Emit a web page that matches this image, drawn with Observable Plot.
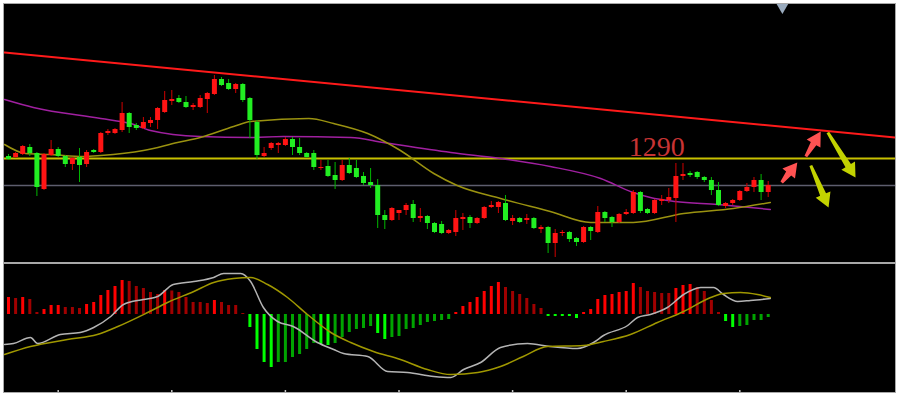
<!DOCTYPE html>
<html>
<head>
<meta charset="utf-8">
<script src="https://cdn.jsdelivr.net/npm/d3@7"></script>
<script src="https://cdn.jsdelivr.net/npm/@observablehq/plot@0.6"></script>
<style>
  html, body { margin: 0; padding: 0; background: #fff; width: 900px; height: 400px; overflow: hidden; }
  .panel { position: absolute; background: #000; border: 1px solid #a8a8a8; }
  #top { left: 3px; top: 3px; width: 891px; height: 258px; }
  #bottom { left: 3px; top: 263px; width: 891px; height: 128px; }
  .panel svg { display: block; }
</style>
</head>
<body>
<div id="top" class="panel"></div>
<div id="bottom" class="panel"></div>
<script>
// ---------- price candles ----------
const open = [1291,1290.5,1292,1295.5,1292.5,1274.5,1291.5,1294.5,1291,1287,
1290.5,1287,1294,1293,1302.5,1302.5,1304,1312.5,1306.5,1305,
1307.5,1309,1313,1318.5,1320,1318,1315.5,1315.5,1319.5,1322,
1329.5,1327.5,1324.5,1327,1320,1308,1291,1295,1296.5,1296.5,
1299.5,1295.5,1292.5,1292.5,1285,1286,1281.5,1279,1286.5,1285,
1281,1278,1276.5,1261.5,1259,1262.5,1264,1267,1260,1261,
1257.5,1257,1252.5,1253,1259.5,1260.5,1257.5,1260,1265.5,1265.5,
1267.5,1258.5,1260,1259,1260,1254.5,1255.5,1247.5,1252.5,1253,
1250,1248,1255.5,1253,1263,1260.5,1258,1262,1262.5,1273,
1264.5,1262.5,1268.5,1269,1270,1281,1282.5,1283,1280.5,1279,
1274,1266,1267.5,1269,1273.5,1275.5,1279,1273];
const close = [1289.5,1292.5,1296,1292.5,1275.5,1292,1294.5,1291,1287,1290,
1286.5,1293,1293,1302.5,1303.5,1304.5,1312.5,1305.5,1305,1308,
1309,1315,1319,1319.5,1318,1315.5,1316.5,1320,1322.5,1329.5,
1326.5,1324.5,1327,1319,1309,1291.5,1292.5,1297.5,1297.5,1299.5,
1295.5,1292.5,1290.5,1285.5,1285.5,1281,1279,1286.5,1282.5,1280.5,
1277.5,1276.5,1261.5,1259,1265,1264,1266.5,1260,1261,1257.5,
1253,1252.5,1254,1260,1260.5,1257.5,1260,1265.5,1266.5,1268,
1259,1260,1258,1260,1255,1255.5,1247.5,1252.5,1253,1249.5,
1248,1255.5,1253.5,1263,1260,1258,1262,1263,1273,1263.5,
1262.5,1269,1269.5,1270.5,1281,1282,1281.5,1280.5,1279,1274,
1266.5,1267.5,1269,1273.5,1275.5,1279,1273,1276.5];
const high = [1292,1293,1296.5,1297,1293,1292.5,1299,1295.5,1291.5,1290.5,
1295,1294,1294.5,1303,1304.5,1305,1318,1313,1307.5,1310.5,
1310.5,1315.5,1323.5,1324,1321.5,1321,1317.5,1321.5,1323,1331.5,
1330.5,1329.5,1327.5,1327.5,1320.5,1309,1295.5,1298,1298,1300.5,
1300.5,1300,1293,1294,1289,1289,1288,1289,1290,1289,
1283,1285,1279.5,1264,1265.5,1264,1267.5,1269,1265,1261.5,
1258,1258.5,1254.5,1264,1262.5,1261.5,1260.5,1266,1268.5,1268.5,
1271.5,1261.5,1260.5,1262,1260.5,1256.5,1256,1254.5,1254,1253.5,
1250.5,1256,1256,1266,1263.5,1261,1262.5,1264.5,1274,1273.5,
1265,1269.5,1271.5,1275,1287.5,1287.5,1283.5,1283.5,1281,1280.5,
1278,1268,1269.5,1274,1277.5,1280.5,1282,1278.5];
const low = [1289,1290,1291.5,1291,1271,1274,1291,1290.5,1285.5,1284,
1278,1285.5,1292.5,1292.5,1301.5,1302,1303,1302.5,1304,1304.5,
1305.5,1304.5,1312.5,1316.5,1317.5,1315,1314,1315,1312.5,1321.5,
1326,1324,1322.5,1318,1300,1289.5,1290.5,1294,1292.5,1296,
1291.5,1291.5,1290,1284,1284,1280.5,1274.5,1278.5,1282,1280,
1276.5,1275,1255,1254.5,1258.5,1259,1261.5,1258,1258,1254.5,
1252.5,1252,1252,1251,1254,1255,1257,1259.5,1265,1262.5,
1258.5,1256.5,1257.5,1257,1254.5,1252.5,1242.5,1240.5,1251,1248,
1246,1247.5,1249,1252.5,1258,1255.5,1257.5,1261.5,1262,1262.5,
1262,1262,1266.5,1267.5,1258,1279,1280.5,1279.5,1278,1271.5,
1266,1265,1266.5,1268.5,1273,1273,1269,1270.5];

// moving averages (bar index, price)
const maSlowX = [-0.56,3.5,13.0,17.2,20.0,27.0,34.1,38.7,48.2,52.8,62.3,69.3,76.3,83.4,88.0,90.4,93.9,99.9,104.5,107.3];
const maSlowY = [1319.5,1315.5,1310,1307.5,1304,1301,1300.5,1301,1300.5,1298,1293,1290,1286,1280,1273,1270.5,1268.5,1267,1265.5,1264.5];
const maFastX = [-0.56,2.4,5.9,10.6,13.0,19.0,23.8,27.0,31.7,34.1,42.3,45.8,50.6,55.2,59.9,63.2,69.3,76.3,82.0,88.0,95.1,102.1,107.3];
const maFastY = [1297,1292.5,1292,1291,1291.5,1294,1298,1300.5,1306,1308.5,1310,1307.5,1302.5,1294,1282.5,1276.5,1270,1263.5,1258,1258,1262.5,1265,1268];

// reference levels and annotations
const levelResist = 1290;
const levelLast = 1276.5;
const trendX = [-0.56, 124.93];
const trendY = [1343, 1300.5];
const labelText = ["1290"];
const labelX = [91.3];
const labelY = [1291.5];
const arrowX1 = [108.9, 112.3, 115.4, 113.0];
const arrowY1 = [1278, 1291, 1303, 1286.5];
const arrowX2 = [111.1, 114.4, 119.3, 115.5];
const arrowY2 = [1288, 1303.5, 1280.5, 1265.5];
const arrowDir = ["up", "up", "down", "down"];
const markerX = [109];
const markerY = [1367.3];

// ---------- MACD ----------
const hist = [1.7,1.6,1.7,1.5,0.2,0.5,0.9,0.9,0.7,0.7,0.6,1.0,1.2,1.9,2.4,2.8,3.4,3.3,2.8,2.6,
2.2,2.0,2.4,2.35,2.2,1.7,1.2,1.2,1.1,1.4,1.2,0.9,0.9,0.1,
-1.3,-3.5,-4.8,-5.3,-4.8,-4.8,-4.3,-4.0,-3.5,-2.9,-3.0,-3.1,-2.9,-2.3,-1.8,-1.5,-1.4,-1.2,-1.9,-2.5,-2.3,-2.2,-1.5,-1.4,-1.1,-0.8,-0.7,-0.6,
-0.5,0.2,0.8,1.2,1.7,2.3,2.8,3.2,2.7,2.3,2.0,1.6,1.0,0.6,
-0.2,-0.2,-0.2,-0.2,-0.4,
0.2,0.5,1.5,1.9,2.0,2.2,2.3,3.1,2.7,2.3,2.2,2.1,2.1,2.6,2.9,3.0,2.7,2.3,1.4,0.2,
-0.7,-1.3,-1.2,-1.1,-0.6,-0.6,-0.3];
const difX = [-0.56,0.7,3.1,4.1,7.3,10.1,12.0,14.4,16.2,19.0,21.0,23.2,26.1,28.9,30.3,32.7,34.1,35.9,37.9,40.1,43.5,45.8,47.2,50.6,53.4,56.2,59.9,62.3,64.1,66.5,69.3,73.1,76.3,80.1,82.4,83.8,87.2,88.6,90.4,92.8,95.1,97.5,99.3,100.7,102.7,104.5,107.3];
const difY = [-3.0,-2.9,-2.3,-2.9,-2.0,-1.8,-1.3,-0.2,1.0,1.5,1.8,3.0,3.3,3.7,4.1,4.1,3.3,0.7,-0.7,-1.2,-2.8,-3.5,-3.9,-4.2,-5.7,-5.8,-6.2,-6.3,-5.5,-4.8,-3.3,-2.9,-3.2,-3.4,-2.8,-2.1,-1.1,-0.3,0.0,0.7,2.0,2.7,2.7,2.0,1.3,1.4,1.6];
const deaX = [-0.56,3.1,8.3,12.5,15.4,19.6,22.4,26.1,28.9,31.7,34.1,36.5,39.3,42.1,45.4,48.2,51.4,55.2,59.0,62.3,66.1,69.3,72.5,75.9,81.0,83.8,87.6,91.4,95.1,98.9,100.7,103.1,105.5,107.3];
const deaY = [-4.0,-3.2,-2.5,-2.0,-1.2,0.2,1.2,2.3,3.2,3.6,3.7,3.0,1.7,0.0,-1.8,-2.8,-3.7,-4.5,-5.5,-6.0,-5.8,-5.2,-4.2,-3.2,-3.1,-2.7,-2.0,-0.8,0.3,1.7,2.1,2.2,2.0,1.7];
const timeTicks = [7, 23, 39, 55, 71, 87, 103];

// ---------- build tables ----------
const candles = open.map((o, i) => ({i, o, c: close[i], h: high[i], l: low[i], up: close[i] >= o}));
const maSlow = maSlowX.map((x, k) => ({x, y: maSlowY[k]}));
const maFast = maFastX.map((x, k) => ({x, y: maFastY[k]}));
const trend = trendX.map((x, k) => ({x, y: trendY[k]}));
const arrows = arrowX1.map((x1, k) => ({x1, y1: arrowY1[k], x2: arrowX2[k], y2: arrowY2[k], dir: arrowDir[k]}));
const labels = labelText.map((t, k) => ({t, x: labelX[k], y: labelY[k]}));
const markers = markerX.map((x, k) => ({x, y: markerY[k]}));

let prevBright = true;
const histData = hist.map((v, i) => {
  let bright;
  if (i === 0) bright = true;
  else {
    const p = hist[i - 1];
    if (Math.sign(p) !== Math.sign(v)) bright = true;
    else if (Math.abs(v) > Math.abs(p)) bright = true;
    else if (Math.abs(v) < Math.abs(p)) bright = false;
    else bright = prevBright;
  }
  prevBright = bright;
  return {i, v, bright};
});
const dif = difX.map((x, k) => ({x, y: difY[k]}));
const dea = deaX.map((x, k) => ({x, y: deaY[k]}));

const xDomain = [-0.5634, 124.93];
const yDomainTop = [1238, 1367];
const W = 891, HT = 258, HB = 128;

// fat arrow shape for Plot.vector (drawn pointing up, length l)
const fatArrow = {
  draw(context, l) {
    const hl = 14, hw = 8, sw0 = 1.5, sw1 = 3.2;
    context.moveTo(-sw0, 0);
    context.lineTo(-sw1, -(l - hl));
    context.lineTo(-hw, -(l - hl));
    context.lineTo(0, -l);
    context.lineTo(hw, -(l - hl));
    context.lineTo(sw1, -(l - hl));
    context.lineTo(sw0, 0);
    context.closePath();
  }
};
const kx = W / (xDomain[1] - xDomain[0]);
const ky = HT / (yDomainTop[1] - yDomainTop[0]);
const arrowMarks = arrows.map(a => {
  const dx = (a.x2 - a.x1) * kx, dy = (a.y2 - a.y1) * ky;
  return Plot.vector([a], {
    x: "x1", y: "y1", anchor: "start",
    length: Math.hypot(dx, dy),
    rotate: Math.atan2(dx, dy) * 180 / Math.PI,
    shape: fatArrow,
    fill: a.dir === "up" ? "#ff5252" : "#c2d200",
    stroke: "none"
  });
});

const topPlot = Plot.plot({
  width: W, height: HT, margin: 0,
  style: {background: "#000", overflow: "hidden"},
  x: {domain: xDomain, axis: null},
  y: {domain: yDomainTop, axis: null},
  marks: [
    Plot.ruleY([levelLast], {stroke: "#5e5e6e", strokeWidth: 1.5}),
    Plot.ruleY([levelResist], {stroke: "#c8c000", strokeWidth: 2}),
    Plot.line(maSlow, {x: "x", y: "y", stroke: "#a020a0", strokeWidth: 1.5, curve: "monotone-x"}),
    Plot.line(maFast, {x: "x", y: "y", stroke: "#9a9210", strokeWidth: 1.5, curve: "monotone-x"}),
    Plot.ruleX(candles, {x: "i", y1: "l", y2: "h", stroke: d => d.up ? "#d00000" : "#00b800", strokeWidth: 1}),
    Plot.ruleX(candles, {x: "i", y1: "o", y2: "c", stroke: d => d.up ? "#ff1414" : "#22ee22", strokeWidth: 5}),
    Plot.line(trend, {x: "x", y: "y", stroke: "#ff1a1a", strokeWidth: 2}),
    Plot.text(labels, {x: "x", y: "y", text: "t", fill: "#c83434", fontSize: 28, fontFamily: "Liberation Serif", lineAnchor: "bottom", textAnchor: "middle"}),
    ...arrowMarks,
    Plot.dot(markers, {x: "x", y: "y", symbol: "triangle", rotate: 180, r: 6.5, fill: "#9aabbe"})
  ]
});
document.getElementById("top").appendChild(topPlot);

const bottomPlot = Plot.plot({
  width: W, height: HB, margin: 0,
  style: {background: "#000", overflow: "hidden"},
  x: {domain: xDomain, axis: null},
  y: {domain: [-7.8, 5.0], axis: null},
  marks: [
    Plot.ruleX(histData, {x: "i", y1: 0, y2: "v", strokeWidth: 3,
      stroke: d => d.v >= 0 ? (d.bright ? "#ff0000" : "#a00000") : (d.bright ? "#00ff00" : "#00a400")}),
    Plot.line(dif, {x: "x", y: "y", stroke: "#b4b4b4", strokeWidth: 1.5, curve: "monotone-x"}),
    Plot.line(dea, {x: "x", y: "y", stroke: "#a09800", strokeWidth: 1.5, curve: "monotone-x"}),
    Plot.ruleX(timeTicks, {x: d => d, y1: -7.8, y2: -7.6, stroke: "#c8c8c8", strokeWidth: 1.5})
  ]
});
document.getElementById("bottom").appendChild(bottomPlot);
</script>
</body>
</html>
